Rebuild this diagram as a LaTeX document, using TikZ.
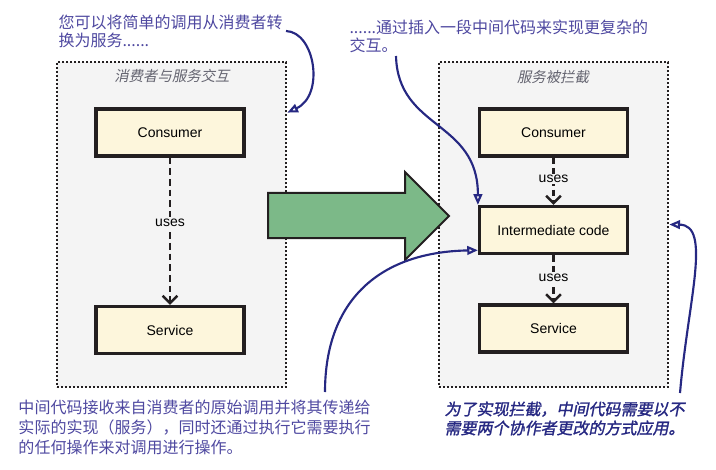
\documentclass[tikz,border=0pt]{standalone}
\usepackage{fontspec}
\setmainfont{Liberation Sans}
\newfontfamily\cjk{Noto Sans CJK SC}
\newfontfamily\cjkit[FakeSlant=0.2]{Noto Sans CJK SC}
\newfontfamily\cjkbi[FakeSlant=0.2,FakeBold=1.5]{Noto Sans CJK SC}
\usetikzlibrary{arrows.meta}

\definecolor{panelbg}{RGB}{244,244,244}
\definecolor{boxfill}{RGB}{253,246,220}
\definecolor{boxline}{RGB}{35,31,32}
\definecolor{bigarrow}{RGB}{124,185,136}
\definecolor{notetext}{RGB}{78,72,160}
\definecolor{noteline}{RGB}{38,40,130}
\definecolor{titlegray}{RGB}{100,100,112}

\tikzset{every picture/.style={line width=0.75pt}}
\tikzset{
  panel/.style={draw=boxline, fill=panelbg, line width=2pt, dash pattern=on 1.8pt off 1.2pt,
    minimum width=171.75pt, minimum height=243.75pt, inner sep=0pt},
  codebox/.style={draw=boxline, fill=boxfill, line width=2.4pt, minimum width=111pt,
    minimum height=35.25pt, inner sep=0pt, font=\fontsize{10.5}{12}\selectfont},
  usesline/.style={draw=boxline, line width=1.9pt, dash pattern=on 5pt off 3pt,
    -{Straight Barb[length=5.5pt,width=11pt]}},
  useslabel/.style={fill=panelbg, inner sep=1pt, font=\fontsize{10.5}{12}\selectfont},
  pointer/.style={draw=noteline, line width=1.6pt, -{Triangle[open,length=8pt,width=6.5pt]}},
  note/.style={anchor=north west, inner sep=0.75pt, align=left, text=notetext},
  paneltitle/.style={inner sep=0.75pt, text=titlegray, font=\cjkit\fontsize{10.8}{13}\selectfont}
}

\begin{document}
\begin{tikzpicture}[x=0.75pt,y=0.75pt,yscale=-1,xscale=1]
\path (0,0) rectangle (716,470); %set diagram to 716 x 470

%Shape: Rectangle (left panel)
\node [panel] (lpanel) at (171.5,224.5) {};
%Shape: Rectangle (right panel)
\node [panel] (rpanel) at (553.5,224.5) {};

% Text Node
\node [paneltitle] (ltitle) at (172,76) {消费者与服务交互};
% Text Node
\node [paneltitle] (rtitle) at (553,77) {服务被拦截};

%Left panel boxes
\node [codebox] (lcons) at (170,132.5) {Consumer};
\node [codebox] (lserv) at (170,330) {Service};
\draw [usesline] (lcons) -- node [useslabel, pos=0.44] {uses} (lserv);

%Right panel boxes
\node [codebox] (rcons) at (553.5,132.5) {Consumer};
\node [codebox] (imid) at (553.5,230) {Intermediate code};
\node [codebox] (rserv) at (553.5,328.5) {Service};
\draw [usesline] (rcons) -- node [useslabel, pos=0.45] {uses} (imid);
\draw [usesline] (imid) -- node [useslabel, pos=0.47] {uses} (rserv);

%Right Arrow
\draw [draw=boxline, line width=1.5pt, fill=bigarrow, line join=miter] (268,193) -- (405,193) -- (405,172) -- (449,216) -- (405,260) -- (405,238) -- (268,238) -- cycle ;

% Text Node
\node [note, font=\cjk\fontsize{12}{13.5}\selectfont] (t1) at (57,13) {您可以将简单的调用从消费者转\\换为服务......};
% Text Node
\node [note, font=\cjk\fontsize{12}{13.5}\selectfont] (t2) at (348,18) {......通过插入一段中间代码来实现更复杂的\\交互。};
% Text Node
\node [note, font=\cjk\fontsize{12}{15}\selectfont] (t3) at (17,398) {中间代码接收来自消费者的原始调用并将其传递给\\实际的实现（服务），同时还通过执行它需要执行\\的任何操作来对调用进行操作。};
% Text Node
\node [note, text=noteline, font=\cjkbi\fontsize{12}{14.25}\selectfont] (t4) at (443,400) {为了实现拦截，中间代码需要以不\\需要两个协作者更改的方式应用。};

%Curve Lines
\coordinate (s1) at (286,31);
\coordinate (s2) at (396,56);
\coordinate (s3) at (325,392);
\coordinate (s4) at (680,393);
\draw [pointer] (s1) .. controls (315,32) and (325,95) .. (lpanel.44);
\draw [pointer] (s2) .. controls (398,130) and (478,120) .. (imid.north west);
\draw [pointer] (s3) .. controls (325,300) and (380,252) .. (imid.195);
\draw [pointer] (s4) .. controls (688,300) and (712,225) .. (rpanel.east);

\end{tikzpicture}
\end{document}
